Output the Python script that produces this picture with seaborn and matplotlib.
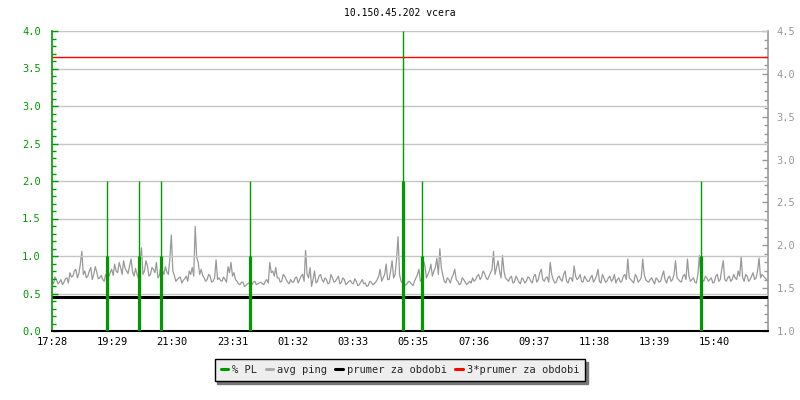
import matplotlib
matplotlib.use("Agg")
import matplotlib.pyplot as plt
import numpy as np
import pandas as pd
import seaborn as sns
from matplotlib.ticker import MultipleLocator, FixedLocator, FormatStrFormatter
from matplotlib.lines import Line2D

# ---------------- data ----------------
title = "10.150.45.202 vcera"
start_label = "17:28"
tick_labels = ["17:28", "19:29", "21:30", "23:31", "01:32", "03:33",
               "05:35", "07:36", "09:37", "11:38", "13:39", "15:40"]
period_minutes = 1440
sample_step_min = 6

# avg ping (right axis), samples every 6 minutes (at 0, 6, 12, ...)
ping_values = [
    1.58, 1.63, 1.55, 1.60, 1.57, 1.62, 1.68, 1.64, 1.72, 1.67,
    1.93, 1.70, 1.64, 1.74, 1.66, 1.69, 1.62, 1.60, 1.66, 1.63,
    1.72, 1.78, 1.68, 1.74, 1.82, 1.70, 1.76, 1.69, 1.73, 1.62,
    1.97, 1.70, 1.76, 1.66, 1.72, 1.80, 1.65, 1.71, 1.75, 1.66,
    2.12, 1.65, 1.60, 1.63, 1.59, 1.64, 1.70, 1.74, 2.22, 1.80,
    1.72, 1.62, 1.60, 1.64, 1.58, 1.83, 1.62, 1.58, 1.60, 1.75,
    1.80, 1.68, 1.58, 1.54, 1.57, 1.53, 1.56, 1.54, 1.58, 1.55,
    1.57, 1.54, 1.60, 1.80, 1.70, 1.74, 1.62, 1.58, 1.64, 1.57,
    1.60, 1.57, 1.63, 1.60, 1.66, 1.94, 1.62, 1.52, 1.70, 1.58,
    1.66, 1.57, 1.60, 1.56, 1.62, 1.58, 1.64, 1.57, 1.60, 1.56,
    1.59, 1.55, 1.58, 1.54, 1.60, 1.56, 1.53, 1.57, 1.55, 1.60,
    1.72, 1.62, 1.78, 1.60, 1.82, 1.66, 2.10, 1.58, 1.52, 1.55,
    1.57, 1.53, 1.62, 1.72, 1.60, 1.76, 1.66, 1.78, 1.70, 1.85,
    1.96, 1.65, 1.56, 1.60, 1.62, 1.72, 1.58, 1.55, 1.60, 1.54,
    1.58, 1.62, 1.60, 1.66, 1.63, 1.67, 1.60, 1.68, 1.93, 1.74,
    1.70, 1.88, 1.62, 1.58, 1.64, 1.57, 1.61, 1.55, 1.60, 1.58,
    1.62, 1.56, 1.66, 1.60, 1.72, 1.58, 1.63, 1.80, 1.60, 1.57,
    1.64, 1.58, 1.70, 1.56, 1.62, 1.76, 1.60, 1.66, 1.57, 1.61,
    1.58, 1.65, 1.60, 1.72, 1.56, 1.62, 1.58, 1.64, 1.60, 1.56,
    1.62, 1.58, 1.66, 1.84, 1.60, 1.56, 1.63, 1.59, 1.84, 1.60,
    1.57, 1.62, 1.55, 1.60, 1.58, 1.70, 1.56, 1.64, 1.60, 1.82,
    1.60, 1.57, 1.66, 1.84, 1.58, 1.62, 1.56, 1.88, 1.60, 1.64,
    1.58, 1.62, 1.57, 1.66, 1.60, 1.82, 1.58, 1.64, 1.60, 1.62,
    1.70, 1.86, 1.58, 1.64, 1.60, 1.68, 1.62, 1.85, 1.66, 1.62,
]
# avg ping samples in between (at 3, 9, 15, ... minutes)
ping_values_mid = [
    1.55, 1.60, 1.57, 1.54, 1.61, 1.56, 1.63, 1.70, 1.62, 1.78,
    1.66, 1.62, 1.70, 1.60, 1.75, 1.61, 1.65, 1.58, 1.62, 1.68,
    1.65, 1.70, 1.80, 1.66, 1.73, 1.67, 1.84, 1.64, 1.66, 1.78,
    1.66, 1.82, 1.64, 1.74, 1.68, 1.62, 1.76, 1.66, 1.69, 1.84,
    1.70, 1.58, 1.62, 1.56, 1.61, 1.58, 1.66, 1.64, 1.86, 1.66,
    1.65, 1.58, 1.66, 1.57, 1.62, 1.60, 1.59, 1.63, 1.57, 1.68,
    1.64, 1.60, 1.55, 1.57, 1.52, 1.55, 1.53, 1.57, 1.54, 1.56,
    1.55, 1.58, 1.56, 1.68, 1.64, 1.62, 1.57, 1.66, 1.60, 1.55,
    1.57, 1.62, 1.56, 1.64, 1.58, 1.66, 1.74, 1.60, 1.56, 1.64,
    1.60, 1.62, 1.55, 1.66, 1.57, 1.61, 1.55, 1.62, 1.54, 1.58,
    1.56, 1.61, 1.53, 1.57, 1.55, 1.52, 1.58, 1.54, 1.57, 1.64,
    1.58, 1.66, 1.60, 1.70, 1.62, 1.84, 1.66, 1.56, 1.54, 1.58,
    1.55, 1.58, 1.66, 1.58, 1.82, 1.62, 1.70, 1.64, 1.74, 1.66,
    1.74, 1.58, 1.62, 1.56, 1.66, 1.60, 1.54, 1.62, 1.57, 1.56,
    1.56, 1.58, 1.64, 1.60, 1.70, 1.62, 1.64, 1.72, 1.66, 1.82,
    1.62, 1.70, 1.60, 1.62, 1.56, 1.64, 1.57, 1.62, 1.56, 1.63,
    1.58, 1.64, 1.57, 1.68, 1.60, 1.62, 1.57, 1.66, 1.56, 1.62,
    1.60, 1.66, 1.58, 1.62, 1.58, 1.64, 1.62, 1.58, 1.64, 1.58,
    1.62, 1.57, 1.64, 1.58, 1.66, 1.57, 1.62, 1.58, 1.66, 1.60,
    1.57, 1.64, 1.60, 1.62, 1.58, 1.66, 1.57, 1.62, 1.66, 1.58,
    1.60, 1.58, 1.62, 1.57, 1.64, 1.60, 1.62, 1.58, 1.66, 1.62,
    1.58, 1.64, 1.60, 1.64, 1.60, 1.57, 1.66, 1.64, 1.58, 1.62,
    1.60, 1.56, 1.64, 1.58, 1.72, 1.60, 1.62, 1.58, 1.66, 1.60,
    1.64, 1.62, 1.66, 1.58, 1.64, 1.60, 1.70, 1.62, 1.64, 1.60,
]

# packet loss (left axis): minutes since start, average and max
pl_times = [111, 175, 219, 398, 705, 745, 1305]
pl_avg = [1.0, 1.0, 1.0, 1.0, 2.0, 1.0, 1.0]
pl_max = [2.0, 2.0, 2.0, 2.0, 4.0, 2.0, 2.0]

prumer = 1.40          # period average (right axis)
prumer_factor = 3

legend_labels = ["% PL", "avg ping", "prumer za obdobi", "3*prumer za obdobi"]

# ---------------- styling ----------------
GREEN = "#009900"
GRAY = "#999999"
GRID = "#c6c6c6"
FS = 7

sns.set_style("white")
plt.rcParams["font.family"] = ["DejaVu Sans Mono", "DejaVu Sans"]


def to_min(s):
    h, m = map(int, s.split(":"))
    h0, m0 = map(int, start_label.split(":"))
    return ((h * 60 + m) - (h0 * 60 + m0)) % 1440


fig = plt.figure(figsize=(8, 4), dpi=100)
fig.patch.set_facecolor("white")
ax = fig.add_axes([52 / 800, 69 / 400, 716 / 800, 300 / 400])
ax2 = ax.twinx()
ax.set_zorder(ax2.get_zorder() + 1)
ax.patch.set_visible(False)

n = len(ping_values)
df = pd.concat([
    pd.DataFrame({"t": np.arange(n) * sample_step_min, "ping": ping_values}),
    pd.DataFrame({"t": np.arange(n) * sample_step_min + sample_step_min / 2,
                  "ping": ping_values_mid}),
]).sort_values("t").reset_index(drop=True)
sns.lineplot(data=df, x="t", y="ping", ax=ax2, color=GRAY, lw=0.9, zorder=2)
ax2.axhline(prumer, color="black", lw=2.2, zorder=3)
ax2.axhline(prumer * prumer_factor, color="#ff0000", lw=1.0, zorder=4)

ax.vlines(pl_times, 0, pl_max, color=GREEN, lw=1.0, zorder=3)
ax.vlines(pl_times, 0, pl_avg, color=GREEN, lw=2.3, zorder=3)

ax.set_xlim(0, period_minutes)
ax.set_ylim(0, 4.0)
ax2.set_ylim(1.0, 4.5)

ax.yaxis.set_major_locator(MultipleLocator(0.5))
ax.yaxis.set_minor_locator(MultipleLocator(0.1))
ax2.yaxis.set_major_locator(MultipleLocator(0.5))
ax2.yaxis.set_minor_locator(MultipleLocator(0.1))
ax.yaxis.set_major_formatter(FormatStrFormatter("%.1f"))
ax2.yaxis.set_major_formatter(FormatStrFormatter("%.1f"))

ax.xaxis.set_major_locator(FixedLocator([to_min(s) for s in tick_labels]))
ax.set_xticklabels(tick_labels)

ax.yaxis.grid(True, which="major", color=GRID, lw=1.0, zorder=0)
ax.xaxis.grid(False)
ax2.grid(False)
ax.set_axisbelow(True)

ax.tick_params(axis="y", which="major", direction="in", length=4, width=1,
               color=GREEN, labelcolor=GREEN, labelsize=FS + 0.5, pad=8)
ax.tick_params(axis="y", which="minor", direction="in", length=3, width=1,
               color=GREEN)
ax2.tick_params(axis="y", which="major", direction="in", length=4, width=1,
                color=GRAY, labelcolor=GRAY, labelsize=FS + 0.5, pad=6)
ax2.tick_params(axis="y", which="minor", direction="in", length=3, width=1,
                color=GRAY)
ax.tick_params(axis="x", which="major", direction="in", length=4, width=1,
               color="black", labelcolor="black", labelsize=FS + 0.5, pad=4)

ax.spines["top"].set_visible(False)
ax2.spines["top"].set_visible(False)
ax.spines["right"].set_visible(False)
ax2.spines["left"].set_visible(False)
ax2.spines["bottom"].set_visible(False)
ax.spines["left"].set_color(GREEN)
ax.spines["left"].set_linewidth(1.2)
ax.spines["bottom"].set_color("black")
ax.spines["bottom"].set_linewidth(1.5)
ax2.spines["right"].set_color(GRAY)
ax2.spines["right"].set_linewidth(1.2)

ax.set_xlabel("")
ax.set_ylabel("")
ax2.set_xlabel("")
ax2.set_ylabel("")

fig.text(0.5, 1 - 13 / 400, title, ha="center", va="center", fontsize=FS,
         color="black")

handles = [
    Line2D([], [], color=GREEN, lw=2.2),
    Line2D([], [], color="#aaaaaa", lw=2.2),
    Line2D([], [], color="black", lw=2.2),
    Line2D([], [], color="#ff0000", lw=2.2),
]
leg = fig.legend(handles, legend_labels, loc="center",
                 bbox_to_anchor=(0.5, 30 / 400), ncol=4, frameon=True,
                 fancybox=False, shadow={"color": "#777777", "alpha": 1.0},
                 edgecolor="black", facecolor="#eeeeee", framealpha=1,
                 fontsize=FS + 0.5, handlelength=0.7, handletextpad=0.4,
                 columnspacing=0.8, borderpad=0.6)
leg.get_frame().set_linewidth(1.0)

fig.savefig("out.png", dpi=100, facecolor="white")
